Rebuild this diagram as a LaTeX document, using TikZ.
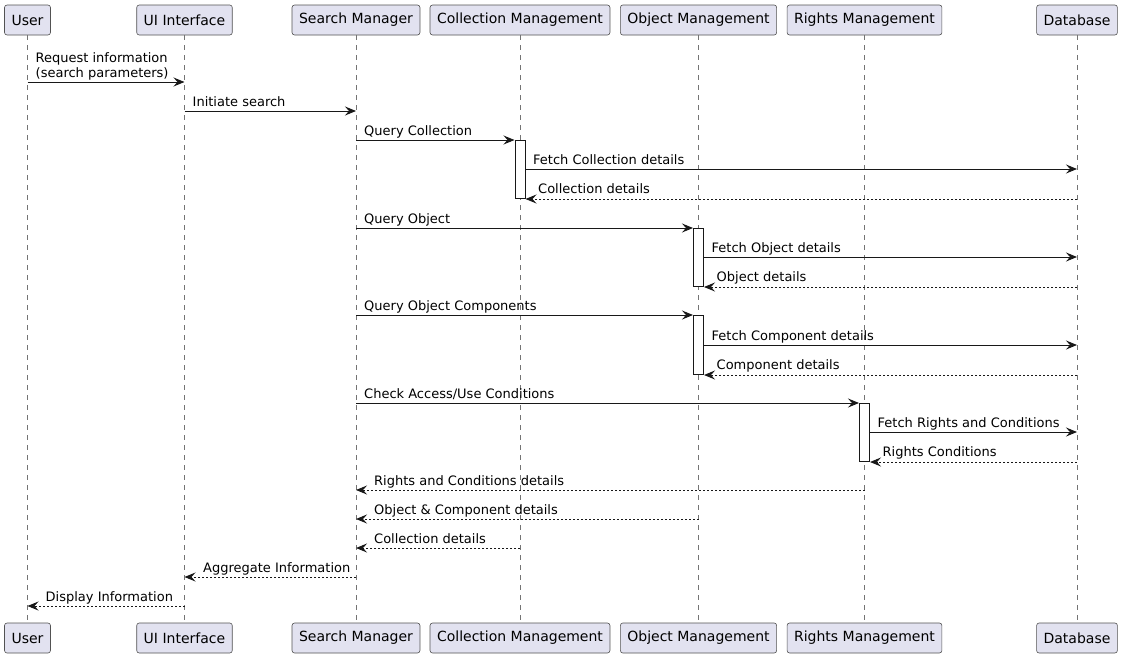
\documentclass[tikz,border=0pt]{standalone}
\usepackage{fontspec}
\setmainfont{DejaVu Sans}
\usetikzlibrary{arrows.meta}
\definecolor{lc}{HTML}{181818}
\definecolor{pf}{HTML}{E2E2F0}
\begin{document}
\begin{tikzpicture}[x=1pt,y=-1pt,
  part/.style={draw=lc!75, fill=pf, line width=0.6pt, rounded corners=2.5pt,
    minimum height=30pt, inner xsep=7pt, inner ysep=0pt,
    font=\fontsize{14pt}{16pt}\selectfont, text=black},
  life/.style={draw=lc!60, line width=0.5pt, dash pattern=on 5pt off 5pt},
  act/.style={draw=lc, fill=white, line width=1pt, minimum width=10pt,
    inner sep=0pt, anchor=north},
  msg/.style={draw=lc, line width=1pt, -{Stealth[length=11pt,width=9pt,inset=4pt]}},
  ret/.style={msg, dash pattern=on 2pt off 2pt},
  lbl/.style={font=\fontsize{13pt}{15pt}\selectfont, inner sep=0pt,
    anchor=base west, text=black}]
\useasboundingbox (0,0) rectangle (1121,659);

% participants (top)
\node[part] (tU) at (27.5,20) {User};
\node[part] (tI) at (184.5,20) {UI Interface};
\node[part] (tS) at (356,20) {Search Manager};
\node[part] (tC) at (520,20) {Collection Management};
\node[part] (tO) at (698.5,20) {Object Management};
\node[part] (tR) at (864.5,20) {Rights Management};
\node[part] (tD) at (1077,20) {Database};
% participants (bottom)
\node[part] (bU) at (27.5,638) {User};
\node[part] (bI) at (184.5,638) {UI Interface};
\node[part] (bS) at (356,638) {Search Manager};
\node[part] (bC) at (520,638) {Collection Management};
\node[part] (bO) at (698.5,638) {Object Management};
\node[part] (bR) at (864.5,638) {Rights Management};
\node[part] (bD) at (1077,638) {Database};

% lifelines
\foreach \p in {U,I,S,C,O,R,D}{\draw[life] (t\p.south) -- (b\p.north);}

% activations
\node[act, minimum height=58pt] (a1) at (520,140) {};
\node[act, minimum height=58pt] (a2) at (698.5,228) {};
\node[act, minimum height=59pt] (a3) at (698.5,315) {};
\node[act, minimum height=58pt] (a4) at (864.5,403) {};

% messages
\draw[msg] (tU |- 0,82) -- (tI |- 0,82);
\node[lbl] (m1a) at (35.5,62) {Request information};
\node[lbl] (m1b) at (35.5,77) {(search parameters)};

\draw[msg] (tI |- 0,111) -- (tS |- 0,111);
\node[lbl] (m2) at (192.5,106.5) {Initiate search};

\draw[msg] (tS |- a1.north) -- (a1.north west);
\node[lbl] (m3) at (364,135.5) {Query Collection};

\draw[msg] (a1.east |- 0,169) -- (tD |- 0,169);
\node[lbl] (m4) at (533,164.5) {Fetch Collection details};

\draw[ret] (tD |- a1.south) -- (a1.south east);
\node[lbl] (m5) at (538,193.5) {Collection details};

\draw[msg] (tS |- a2.north) -- (a2.north west);
\node[lbl] (m6) at (364,223.5) {Query Object};

\draw[msg] (a2.east |- 0,257) -- (tD |- 0,257);
\node[lbl] (m7) at (711.5,252.5) {Fetch Object details};

\draw[ret] (tD |- a2.south) -- (a2.south east);
\node[lbl] (m8) at (716.5,281.5) {Object details};

\draw[msg] (tS |- a3.north) -- (a3.north west);
\node[lbl] (m9) at (364,310.5) {Query Object Components};

\draw[msg] (a3.east |- 0,345) -- (tD |- 0,345);
\node[lbl] (m10) at (711.5,340.5) {Fetch Component details};

\draw[ret] (tD |- a3.south) -- (a3.south east);
\node[lbl] (m11) at (716.5,369.5) {Component details};

\draw[msg] (tS |- a4.north) -- (a4.north west);
\node[lbl] (m12) at (364,398.5) {Check Access/Use Conditions};

\draw[msg] (a4.east |- 0,432) -- (tD |- 0,432);
\node[lbl] (m13) at (877.5,427.5) {Fetch Rights and Conditions};

\draw[ret] (tD |- a4.south) -- (a4.south east);
\node[lbl] (m14) at (882.5,456.5) {Rights Conditions};

\draw[ret] (tR |- 0,490) -- (tS |- 0,490);
\node[lbl] (m15) at (374,485.5) {Rights and Conditions details};

\draw[ret] (tO |- 0,519) -- (tS |- 0,519);
\node[lbl] (m16) at (374,514.5) {Object \& Component details};

\draw[ret] (tC |- 0,548) -- (tS |- 0,548);
\node[lbl] (m17) at (374,543.5) {Collection details};

\draw[ret] (tS |- 0,577) -- (tI |- 0,577);
\node[lbl] (m18) at (203,572.5) {Aggregate Information};

\draw[ret] (tI |- 0,606) -- (tU |- 0,606);
\node[lbl] (m19) at (45.5,601.5) {Display Information};
\end{tikzpicture}
\end{document}
